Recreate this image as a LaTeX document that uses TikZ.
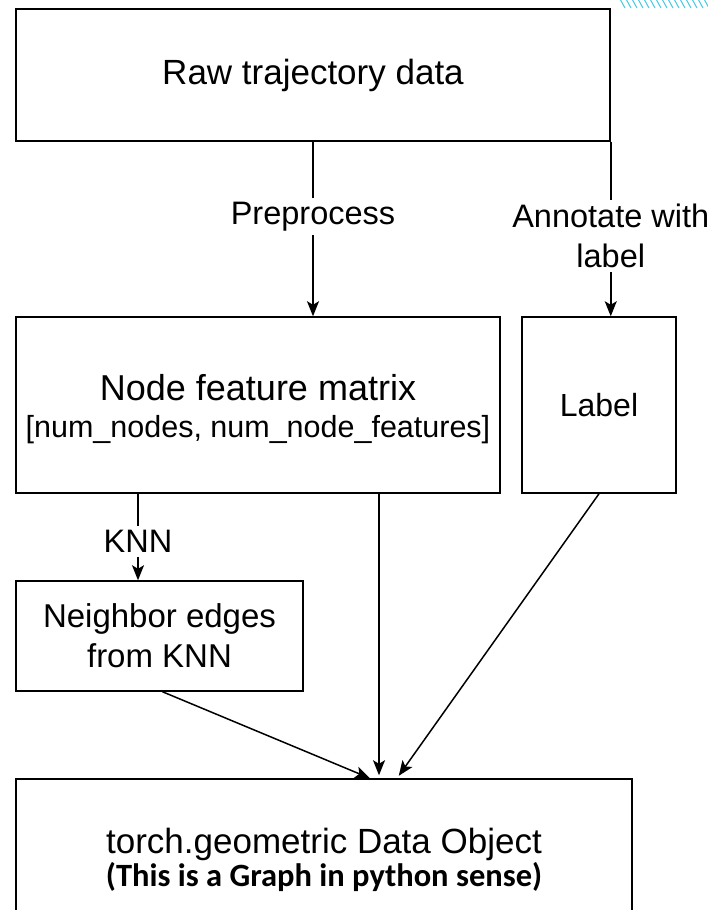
\documentclass[tikz,border=0pt]{standalone}
\usepackage{fontspec}
\setmainfont{Liberation Sans}
\newfontfamily\notefont{Carlito}
\usetikzlibrary{arrows.meta,positioning,calc}
\definecolor{hatchcol}{RGB}{70,200,225}
\begin{document}
\begin{tikzpicture}[x=1pt,y=-1pt,
		blk/.style={draw=black,line width=1.5pt,inner sep=0pt,align=center,font=\fontsize{35}{40}\selectfont},
		lbl/.style={fill=white,inner xsep=2pt,inner ysep=4pt,align=center,font=\fontsize{32.5}{40}\selectfont},
		arr/.style={line width=1.5pt,-{Stealth[length=15pt,width=12pt,inset=3.5pt]}}]
	\useasboundingbox (0,0) rectangle (708,910);
	\clip (0,0) rectangle (708,910);
	% hatching in the corner
	\foreach \i in {0,...,15}
		\draw[hatchcol,line width=1pt] (620+6*\i,-1) -- (625+6*\i,8);
	% boxes
	\node (raw)  [blk,minimum width=594,minimum height=132] at (313,75) {\raisebox{-4pt}{Raw trajectory data}};
	\node (feat) [blk,minimum width=484,minimum height=176,font=\fontsize{36}{40}\selectfont] at (258,405)
		{\rule{0pt}{34pt}Node feature matrix\\[-3pt]{\fontsize{30.5}{37}\selectfont [num\_nodes, num\_node\_features]}};
	\node (lab)  [blk,minimum width=154,minimum height=176,font=\fontsize{32}{40}\selectfont] at (599,405) {Label};
	\node (nbr)  [blk,minimum width=287,minimum height=110,font=\fontsize{33}{40}\selectfont] at (159.5,636) {Neighbor edges\\from KNN};
	\node (data) [blk,minimum width=616,minimum height=162] at (324,860)
		{torch.geometric Data Object\\[-7pt]{\notefont\bfseries\fontsize{32.5}{36}\selectfont (This is a Graph in python sense)}};
	% connectors
	\draw[arr] (raw.south) -- node[lbl,pos=.43] {Preprocess} (raw.south |- feat.north);
	\draw[arr] (raw.south east) -- node[lbl,pos=.54] {Annotate with\\label} (raw.south east |- lab.north);
	\draw[arr] ([xshift=-120]feat.south) -- node[lbl,pos=.55] {KNN} ([xshift=-120]feat.south |- nbr.north);
	\draw[arr,shorten >=3pt] ([xshift=121]feat.south) -- ([xshift=121]feat.south |- data.north);
	\draw[arr,shorten >=3pt] (lab.south) -- ([xshift=73]data.north);
	\draw[arr] ([xshift=3]nbr.south) -- ([xshift=46]data.north);
\end{tikzpicture}
\end{document}
